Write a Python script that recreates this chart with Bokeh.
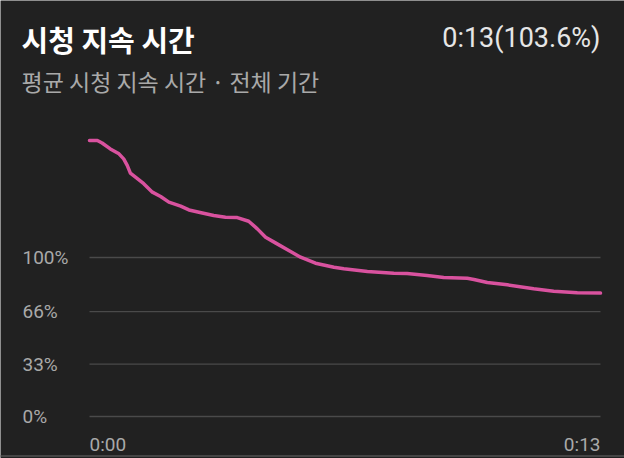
from bokeh.plotting import figure
from bokeh.models import Label, Span
from bokeh.embed import file_html
from bokeh.resources import INLINE

# audience retention, seconds vs percent
seconds = [0, 0.2, 0.32, 0.53, 0.75, 0.87, 0.96, 1.04, 1.17, 1.38, 1.6, 1.81, 2.02, 2.32,
           2.53, 2.87, 3.16, 3.46, 3.76, 4.05, 4.27, 4.48, 4.73, 5.07, 5.37, 5.75, 6.22,
           6.47, 7.07, 7.74, 8.08, 8.59, 9.01, 9.61, 9.78, 10.12, 10.63, 11.3, 11.81,
           12.41, 13.0]
retention = [173.6, 173.6, 172.0, 168.3, 165.2, 162.0, 157.9, 153.1, 150.6, 146.4, 141.1,
             138.4, 134.8, 132.3, 129.9, 128.0, 126.4, 125.3, 125.1, 122.8, 118.0, 112.8,
             109.2, 104.4, 100.2, 96.4, 93.9, 92.9, 91.2, 90.1, 89.9, 88.7, 87.4, 87.0,
             86.2, 84.3, 82.8, 80.3, 78.8, 77.8, 77.6]

y_ticks = [0, 33, 66, 100]
y_tick_labels = ["0%", "33%", "66%", "100%"]
x_ticks = [0, 13]
x_tick_labels = ["0:00", "0:13"]

title = "시청 지속 시간"
subtitle = "평균 시청 지속 시간 · 전체 기간"
summary = "0:13(103.6%)"

W, H = 624, 458
BG = "#212121"
GREY = "#a9a9a9"

# the frame fills the whole canvas (labels outside it get clipped), so the ranges
# are padded to leave room for the header and the tick labels
p = figure(width=W, height=H, x_range=(-2.264, 13.611), y_range=(-26.42, 261.64),
           output_backend="svg", toolbar_location=None, tools="",
           x_axis_location=None, y_axis_location=None, min_border=0)
p.background_fill_color = BG
p.border_fill_color = BG
p.outline_line_color = None
p.grid.visible = False

# horizontal guide lines over the time span only
p.segment(x0=[x_ticks[0]] * len(y_ticks), x1=[x_ticks[-1]] * len(y_ticks),
          y0=y_ticks, y1=y_ticks, line_color="#4a4a4a", line_width=1.3)

p.line(seconds, retention, line_color="#d9529f", line_width=3.5,
       line_join="round", line_cap="round")

# divider at the bottom edge of the card
p.add_layout(Span(location=2.5, location_units="screen", dimension="width",
                  line_color="#454545", line_width=2))

# tick labels
for v, s in zip(y_ticks, y_tick_labels):
    p.add_layout(Label(x=22, y=v, x_units="screen", text=s, text_font="Roboto",
                       text_font_size="19px", text_color=GREY,
                       text_baseline="middle", text_align="left"))
for v, s, al in zip(x_ticks, x_tick_labels, ["left", "right"]):
    p.add_layout(Label(x=v, y=H - 444, y_units="screen", text=s, text_font="Roboto",
                       text_font_size="19px", text_color=GREY,
                       text_baseline="middle", text_align=al))

# header
p.add_layout(Label(x=21, y=H - 38, x_units="screen", y_units="screen", text=title,
                   text_font="Noto Sans CJK KR", text_font_style="bold",
                   text_font_size="29px", text_color="#ffffff", text_baseline="middle"))
p.add_layout(Label(x=600, y=H - 37, x_units="screen", y_units="screen", text=summary,
                   text_font="Roboto", text_font_size="27px", text_color="#e6e6e6",
                   text_baseline="middle", text_align="right"))
p.add_layout(Label(x=21, y=H - 80, x_units="screen", y_units="screen", text=subtitle,
                   text_font="Noto Sans CJK KR", text_font_size="23px", text_color=GREY,
                   text_baseline="middle"))

open("out.html", "w").write(file_html(p, INLINE))
